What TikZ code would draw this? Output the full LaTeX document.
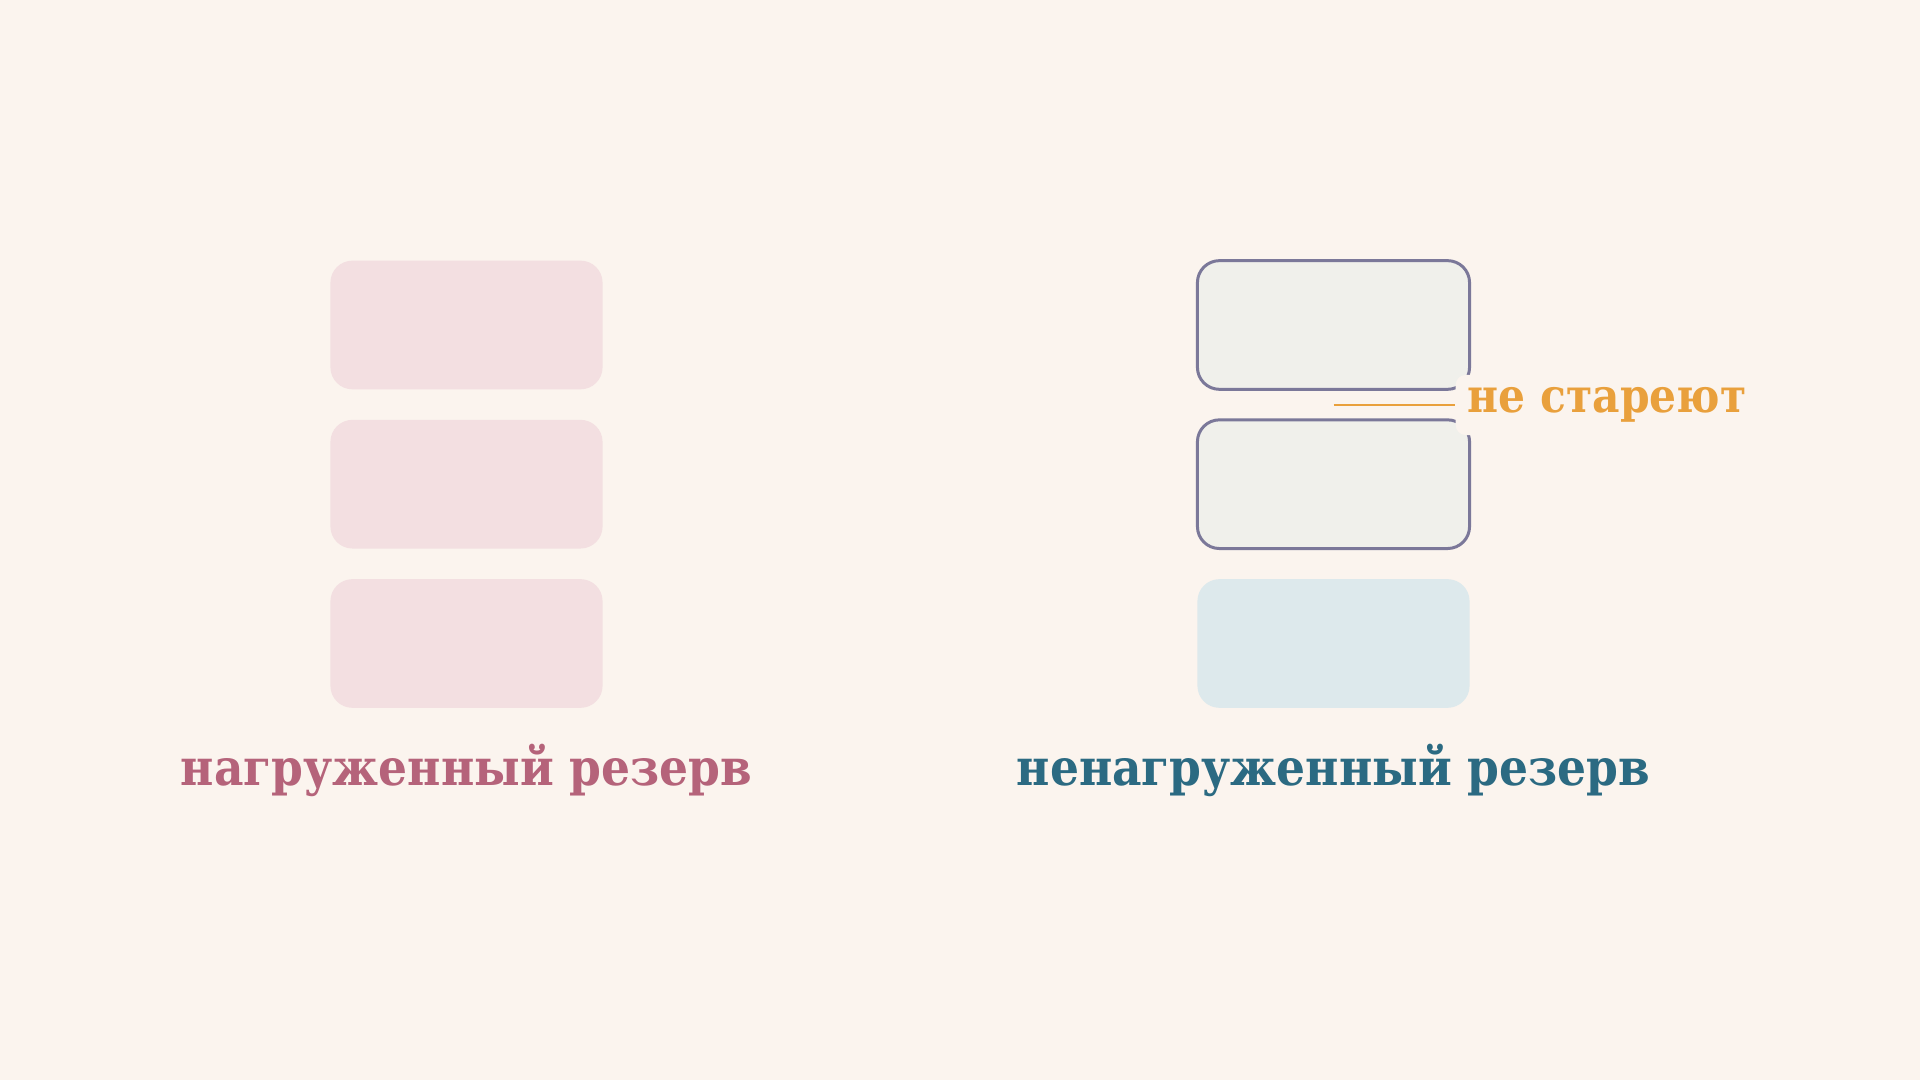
\documentclass[tikz,border=0pt]{standalone}
\usepackage{fontspec}
\setmainfont{DejaVu Serif Condensed}
\usetikzlibrary{positioning}
\definecolor{bgcol}{HTML}{FBF4EE}
\definecolor{hotfill}{HTML}{F3DFE1}
\definecolor{coldfill}{HTML}{F0F0EB}
\definecolor{coldedge}{HTML}{7B7899}
\definecolor{spare}{HTML}{DDE9EC}
\definecolor{hotcol}{HTML}{B5637A}
\definecolor{coldcol}{HTML}{2B6A82}
\definecolor{agecol}{HTML}{E9A03C}
\tikzset{
  unit/.style={rectangle,rounded corners=0.22cm,minimum width=2.72cm,minimum height=1.286cm,inner sep=0pt},
  caption/.style={font=\bfseries\fontsize{14.4}{18}\selectfont,anchor=base}
}
\begin{document}
\begin{tikzpicture}[x=0.01cm,y=-0.01cm]
\fill[bgcol](0,0) rectangle(1920,1080);
\useasboundingbox(0,0) rectangle(1920,1080);
\node[unit,fill=hotfill](l1) at (466.5,325){};
\node[unit,fill=hotfill](l2) at (466.5,484.2){};
\node[unit,fill=hotfill](l3) at (466.5,643.5){};
\node[unit,fill=coldfill,draw=coldedge,line width=0.85pt](r1) at (1333.5,325){};
\node[unit,fill=coldfill,draw=coldedge,line width=0.85pt](r2) at (1333.5,484.2){};
\node[unit,fill=spare](r3) at (1333.5,643.5){};
\node[caption,text=hotcol](hot) at (466.5,786){нагруженный резерв};
\node[caption,text=coldcol](cold) at (1333.5,786){ненагруженный резерв};
\coordinate(gap) at (1333.5,405);
\node[fill=bgcol,rounded corners=0.1cm,anchor=west,inner xsep=0.12cm,minimum height=0.6cm,
  text=agecol,font=\bfseries\fontsize{13.4}{16}\selectfont](age) at (1455,405){не стареют};
\draw[agecol,line width=0.6pt](gap)--(age.west);
\end{tikzpicture}
\end{document}
